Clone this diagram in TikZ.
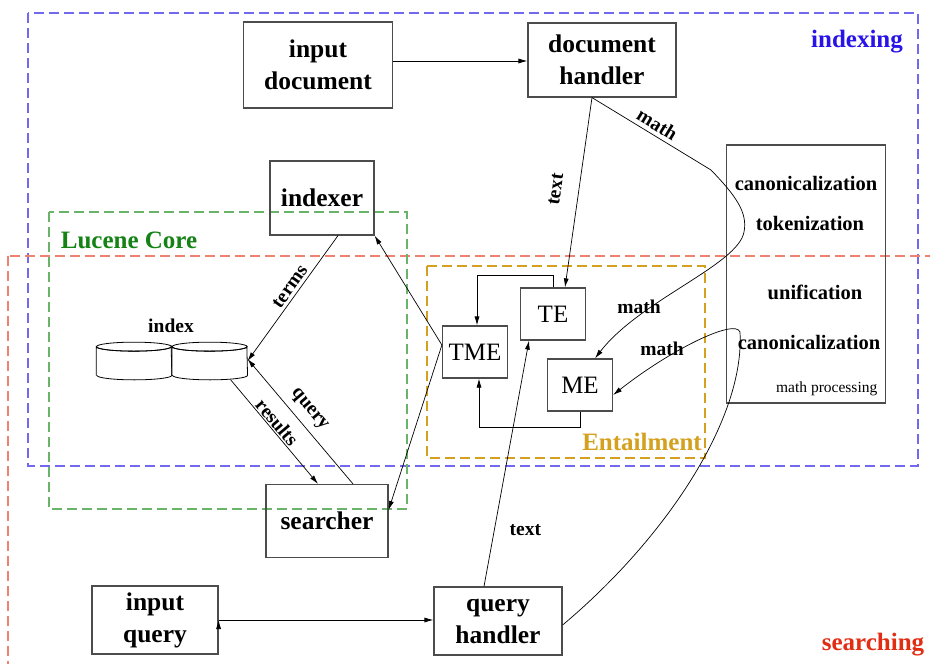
\documentclass[tikz,border=0pt]{standalone}
\usepackage{fontspec}
\setmainfont{Liberation Serif}
\usepackage{tikz}
\usetikzlibrary{positioning,arrows.meta}
\definecolor{idxblue}{RGB}{40,20,230}
\definecolor{idxline}{RGB}{115,105,240}
\definecolor{srchred}{RGB}{225,45,20}
\definecolor{srchline}{RGB}{238,130,112}
\definecolor{lucgreen}{RGB}{20,130,20}
\definecolor{lucline}{RGB}{105,180,105}
\definecolor{entgold}{RGB}{212,160,30}

\begin{document}
\begin{tikzpicture}[x=1pt, y=-1pt, >={Latex[length=9pt,width=5pt]}, line width=0.7pt]
		\tikzstyle{class} = [rectangle, draw=black!70, line width=1.2pt, align=center, inner sep=0pt, font=\fontsize{25.5}{32}\selectfont\bfseries];
		\tikzstyle{engine} = [rectangle, draw=black!70, line width=1.2pt, inner sep=0pt, minimum width=65pt, minimum height=52pt, font=\fontsize{25}{28}\selectfont];
		\tikzstyle{store} = [rectangle, minimum width=75pt, minimum height=37pt, inner sep=0pt];
		\tikzstyle{mathstep} = [font=\fontsize{20.5}{22}\selectfont\bfseries];
		\tikzstyle{lbl} = [font=\fontsize{19.5}{21}\selectfont\bfseries, inner sep=1pt];
		\tikzstyle{group} = [dash pattern=on 10pt off 5pt, line width=1.2pt];
		\tikzstyle{grouplbl} = [font=\fontsize{25}{28}\selectfont\bfseries];
		\useasboundingbox (0,0) rectangle (930,664);

		\draw[group, draw=idxline] (28,13) rectangle (918,466);
		\draw[group, draw=srchline] (8,256) rectangle (940,680);
		\draw[group, draw=lucline] (49,212) rectangle (407,509);
		\draw[group, draw=entgold] (427,266) rectangle (705,458);
		\node[grouplbl, text=idxblue] (indexing) at (857,42) {indexing};
		\node[grouplbl, text=srchred] (searching) at (873,645) {searching};
		\node[grouplbl, text=lucgreen] (lucene) at (129,240) {Lucene Core};
		\node[grouplbl, text=entgold] (entailment) at (642,442) {Entailment};

		\node[class, minimum width=149pt, minimum height=86pt](input document) at (318,65){input \\ document};
		\node[class, minimum width=148pt, minimum height=74pt](document handler) at (602,60){document \\ handler};
		\node[class, minimum width=104pt, minimum height=74pt](indexer) at (322,198){indexer};
		\node[class, minimum width=122pt, minimum height=73pt](searcher) at (327,521){searcher};
		\node[class, minimum width=126pt, minimum height=68pt](input query) at (155,620){input \\ query};
		\node[class, minimum width=128pt, minimum height=68pt](query handler) at (498,621){query \\ handler};
		\node[store](index1) at (134,361){};
		\node[store, right = 0pt of index1](index2){};
		\node[lbl](index) at (171,326){index};
		\node[engine](TME) at (475,352){TME};
		\node[engine](TE) at (553,314){TE};
		\node[engine](ME) at (580,385){ME};
		\node[rectangle, draw=black!70, line width=1.2pt, minimum width=159pt, minimum height=258pt](math processing) at (806,274){};
		\node[mathstep](canon1) at (806,183){canonicalization};
		\node[mathstep](tokens) at (810,223){tokenization};
		\node[mathstep](unif) at (815,292){unification};
		\node[mathstep](canon2) at (809,342){canonicalization};
		\node[font=\fontsize{15.5}{17}\selectfont, anchor=east](mathproc) at (881,389){math processing};

		\foreach \disk in {index1,index2}{
			\draw[line width=0.8pt, fill=white] ([yshift=4.5pt]\disk.south west) -- ([yshift=-4.5pt]\disk.north west) arc (180:360:37.5pt and 4.5pt) -- ([yshift=4.5pt]\disk.south east) arc (360:180:37.5pt and 4.5pt);
			\draw[line width=0.8pt] ([yshift=-4.5pt]\disk.north) ellipse (37.5pt and 4.5pt);
		}

		\path[draw=black, ->] ([yshift=4pt]input document.east) edge ([yshift=4pt]input document.east -| document handler.west)
		([xshift=-10pt]document handler.south) edge node[lbl, sloped, above=16pt]{text} ([xshift=12pt]TE.north)
		([xshift=16pt]indexer.south) edge node[lbl, sloped, above=2pt, pos=0.45]{terms} (index2.east)
		([xshift=21pt]index2.south) edge node[lbl, sloped, above=0pt, pos=0.46]{results} ([xshift=-9pt]searcher.north)
		([xshift=26pt]searcher.north) edge node[lbl, sloped, above=6pt, pos=0.52]{query} ([yshift=2pt]index2.east)
		([yshift=7pt]TME.west) edge (indexer.south east)
		([yshift=7pt]TME.west) edge ([yshift=11pt]searcher.east)
		([xshift=-14pt]query handler.north) edge node[lbl, right=14pt, pos=0.23]{text} ([xshift=-24pt]TE.south)
		(input query.east) edge (input query.east -| query handler.west);

		\draw[->] (TE.north) -- ++(0,-12) -| ([xshift=2pt]TME.north);
		\draw[->] (ME.south) -- ++(0,16) -| ([xshift=4pt]TME.south);

		\draw[->] ([xshift=-10pt]document handler.south) -- node[lbl, sloped, above=3pt]{math} (711,170)
		.. controls (735,195) and (748,212) .. (744,232)
		.. controls (738,265) and (640,300) .. ([xshift=15pt]ME.north);
		\node[lbl](math1) at (639,307){math};
		\draw[->] ([yshift=-4pt]query handler.east) .. controls (664,540) and (745,420) .. (740,332)
		.. controls (735,318) and (670,350) .. ([yshift=-10pt]ME.east);
		\node[lbl](math2) at (662,349){math};
\end{tikzpicture}
\end{document}
